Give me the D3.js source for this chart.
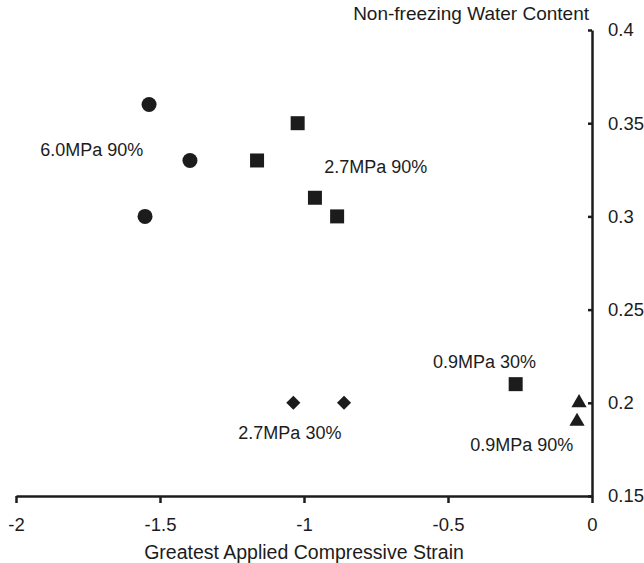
<!DOCTYPE html>
<html>
<head>
<meta charset="utf-8">
<script src="https://cdn.jsdelivr.net/npm/d3@7"></script>
<style>
  html, body { margin: 0; padding: 0; background: #fff; }
  svg { display: block; font-family: "Liberation Sans", Arial, sans-serif; }
</style>
</head>
<body>
<svg id="chart" width="644" height="563"></svg>
<script>
// ---- data ----
const xTicks = [-2, -1.5, -1, -0.5, 0];
const xTickLabels = ["-2", "-1.5", "-1", "-0.5", "0"];
const yTicks = [0.15, 0.2, 0.25, 0.3, 0.35, 0.4];
const yTickLabels = ["0.15", "0.2", "0.25", "0.3", "0.35", "0.4"];

const circlesX = [-1.538, -1.396, -1.552];        // 6.0MPa 90%
const circlesY = [0.36, 0.33, 0.30];
const squaresX = [-1.022, -1.163, -0.962, -0.885]; // 2.7MPa 90%
const squaresY = [0.35, 0.33, 0.31, 0.30];
const square30X = [-0.265];                        // 0.9MPa 30%
const square30Y = [0.21];
const diamondsX = [-1.037, -0.861];                // 2.7MPa 30%
const diamondsY = [0.2, 0.2];
const trianglesX = [-0.045, -0.052];               // 0.9MPa 90%
const trianglesY = [0.2, 0.19];

const labelTexts = ["6.0MPa 90%", "2.7MPa 90%", "0.9MPa 30%", "0.9MPa 90%", "2.7MPa 30%"];
const labelX = [-1.737, -0.751, -0.373, -0.244, -1.049];
const labelY = [0.336, 0.3267, 0.222, 0.1774, 0.184];

const xTitle = "Greatest Applied Compressive Strain";
const yTitle = "Non-freezing Water Content";

// ---- drawing ----
const svg = d3.select("#chart");
const ink = "#1c1c1c";

const x = d3.scaleLinear().domain([-2, 0]).range([16, 592]);
const y = d3.scaleLinear().domain([0.15, 0.4]).range([496, 30]);

// X axis
const xAxis = d3.axisBottom(x).tickValues(xTicks)
  .tickFormat((d, i) => xTickLabels[i]).tickSize(7).tickSizeOuter(0).tickPadding(15);
const gx = svg.append("g").attr("transform", `translate(0,${y(0.15)})`).call(xAxis);
gx.select(".domain").attr("stroke", ink).attr("stroke-width", 2.5);
gx.selectAll(".tick line").attr("stroke", ink).attr("stroke-width", 2.5);
gx.selectAll(".tick text").attr("fill", ink).attr("font-size", 18.5)
  .attr("font-family", "Liberation Sans, Arial, sans-serif");

// Y axis on the right at x=0, ticks pointing inward (left), labels right
const yAxis = d3.axisRight(y).tickValues(yTicks)
  .tickFormat((d, i) => yTickLabels[i]).tickSize(0).tickSizeOuter(0).tickPadding(16);
const gy = svg.append("g").attr("transform", `translate(${x(0)},0)`).call(yAxis);
gy.select(".domain").attr("stroke", ink).attr("stroke-width", 2.5);
gy.selectAll(".tick").append("line")
  .attr("x1", -4).attr("x2", 0).attr("stroke", ink).attr("stroke-width", 2.5);
gy.selectAll(".tick text").attr("fill", ink).attr("font-size", 18.5)
  .attr("font-family", "Liberation Sans, Arial, sans-serif");

// Titles
svg.append("text").attr("x", 304).attr("y", 559).attr("text-anchor", "middle")
  .attr("font-size", 19.5).attr("fill", ink).text(xTitle);
svg.append("text").attr("x", 589).attr("y", 20).attr("text-anchor", "end")
  .attr("font-size", 19).attr("fill", ink).text(yTitle);

// Markers
function drawSeries(xs, ys, type, size, rotate) {
  const sym = d3.symbol().type(type).size(size);
  svg.append("g").selectAll("path")
    .data(xs.map((v, i) => [v, ys[i]]))
    .join("path")
    .attr("d", sym)
    .attr("fill", ink)
    .attr("transform", d => `translate(${x(d[0])},${y(d[1])})` + (rotate ? ` rotate(${rotate})` : ""));
}
drawSeries(circlesX, circlesY, d3.symbolCircle, 177);
drawSeries(squaresX, squaresY, d3.symbolSquare, 196);
drawSeries(square30X, square30Y, d3.symbolSquare, 196);
drawSeries(diamondsX, diamondsY, d3.symbolSquare, 100, 45);
drawSeries(trianglesX, trianglesY, d3.symbolTriangle, 100);

// Labels
svg.append("g").selectAll("text")
  .data(labelTexts.map((t, i) => ({ t, xv: labelX[i], yv: labelY[i] })))
  .join("text")
  .attr("x", d => x(d.xv))
  .attr("y", d => y(d.yv))
  .attr("dy", "0.35em")
  .attr("text-anchor", "middle")
  .attr("font-size", 18)
  .attr("fill", ink)
  .text(d => d.t);
</script>
</body>
</html>
